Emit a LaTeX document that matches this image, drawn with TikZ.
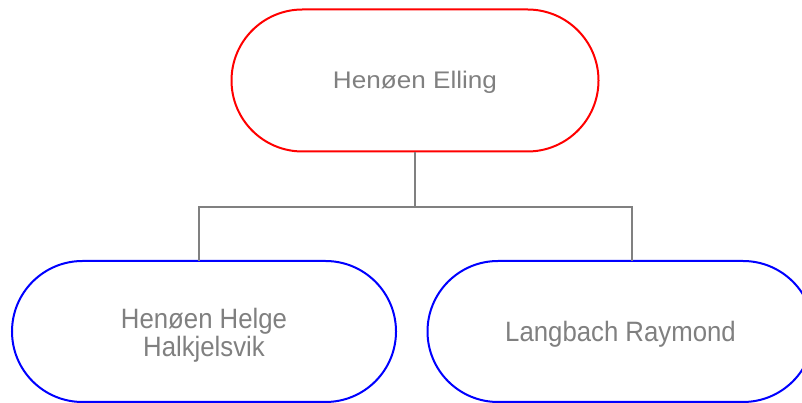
\documentclass[tikz,border=0pt]{standalone}
\usepackage{fontspec}
\usepackage{graphicx}
\setmainfont{Liberation Sans}
\usetikzlibrary{shapes.misc}
\definecolor{txtgray}{HTML}{808080}
\definecolor{linegray}{HTML}{808080}
\definecolor{redline}{HTML}{FF0000}
\definecolor{blueline}{HTML}{0000FF}
\newcommand{\lowered}[2]{\raisebox{-#1}[\height][\depth]{#2}}
\tikzset{
  person/.style={rounded rectangle, draw, line width=2pt, fill=white,
    text=txtgray, align=center, inner sep=0pt},
  root/.style={person, draw=redline, minimum width=367pt, minimum height=142pt,
    font=\fontsize{24}{28}\selectfont},
  child/.style={person, draw=blueline, minimum height=141pt,
    font=\fontsize{28}{28}\selectfont},
  link/.style={draw=linegray, line width=2pt}
}
\begin{document}
\begin{tikzpicture}[x=1pt,y=1pt]
\useasboundingbox (0,0) rectangle (802,403);
\node[child, minimum width=384pt] (left) at (204,71.5)
  {\lowered{5pt}{\begin{tabular}{@{}c@{}}\scalebox{0.92}[1]{Henøen Helge}\\\scalebox{0.92}[1]{Halkjelsvik}\end{tabular}}};
\node[child, minimum width=386pt] (right) at (620.5,71.5)
  {\lowered{3pt}{\scalebox{0.92}[1]{Langbach Raymond}}};
\node[root] (top) at (415,322.5) {\lowered{1.5pt}{\scalebox{1.088}[1]{Henøen Elling}}};
\coordinate (bar) at (415,196);
\coordinate (lj) at (199,142);
\coordinate (rj) at (632,142);
\draw[link] (top.south) -- (bar);
\draw[link] (lj) |- (bar) -| (rj);
\end{tikzpicture}
\end{document}
